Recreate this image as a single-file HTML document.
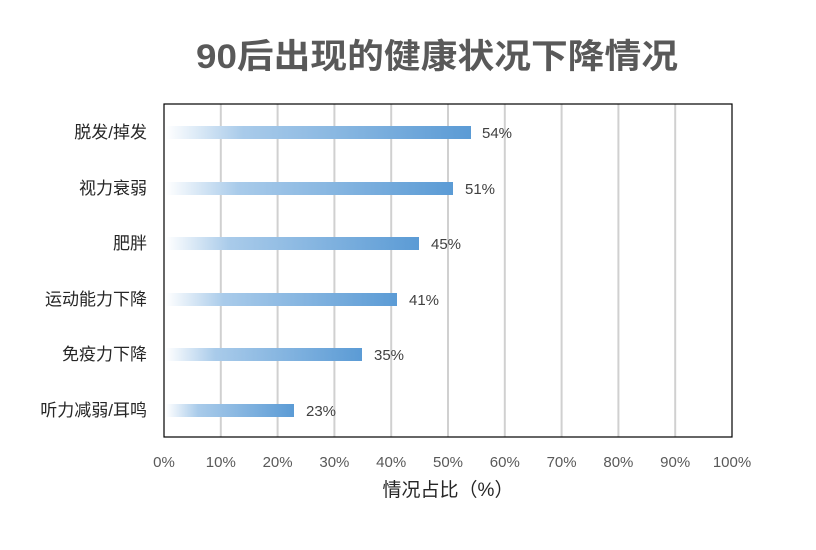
<!DOCTYPE html>
<html><head><meta charset="utf-8"><style>
body{margin:0;background:#fff;}
svg text{font-family:"Liberation Sans","Noto Sans CJK SC",sans-serif;}
</style></head><body>
<svg width="816" height="545" xmlns="http://www.w3.org/2000/svg">
<defs>
<linearGradient id="g" x1="0" x2="1" y1="0" y2="0">
<stop offset="0" stop-color="#ffffff"/>
<stop offset="0.25" stop-color="#a9cbea"/>
<stop offset="1" stop-color="#5b9bd5"/>
</linearGradient>
</defs>
<rect x="0" y="0" width="816" height="545" fill="#fff"/>
<text x="437" y="68" text-anchor="middle" font-size="34" font-weight="bold" fill="#595959" textLength="482" lengthAdjust="spacingAndGlyphs">90后出现的健康状况下降情况</text>
<g stroke="#d0d0d0" stroke-width="2">
<line x1="220.8" y1="104" x2="220.8" y2="437"/>
<line x1="277.6" y1="104" x2="277.6" y2="437"/>
<line x1="334.4" y1="104" x2="334.4" y2="437"/>
<line x1="391.2" y1="104" x2="391.2" y2="437"/>
<line x1="448" y1="104" x2="448" y2="437"/>
<line x1="504.8" y1="104" x2="504.8" y2="437"/>
<line x1="561.6" y1="104" x2="561.6" y2="437"/>
<line x1="618.4" y1="104" x2="618.4" y2="437"/>
<line x1="675.2" y1="104" x2="675.2" y2="437"/>
</g>
<rect x="164" y="104" width="568" height="333" fill="none" stroke="#000" stroke-width="1.2"/>
<g fill="url(#g)">
<rect x="166" y="126" width="305" height="13"/>
<rect x="166" y="182" width="287" height="13"/>
<rect x="166" y="237" width="253" height="13"/>
<rect x="166" y="293" width="231" height="13"/>
<rect x="166" y="348" width="196" height="13"/>
<rect x="166" y="404" width="128" height="13"/>
</g>
<g font-size="15" fill="#404040">
<text x="482" y="138">54%</text>
<text x="465" y="194">51%</text>
<text x="431" y="249">45%</text>
<text x="409" y="305">41%</text>
<text x="374" y="360">35%</text>
<text x="306" y="416">23%</text>
</g>
<g font-size="17" fill="#262626" text-anchor="end">
<text x="147" y="138">脱发/掉发</text>
<text x="147" y="194">视力衰弱</text>
<text x="147" y="249">肥胖</text>
<text x="147" y="305">运动能力下降</text>
<text x="147" y="360">免疫力下降</text>
<text x="147" y="416">听力减弱/耳鸣</text>
</g>
<g font-size="15" fill="#595959" text-anchor="middle">
<text x="164" y="467">0%</text>
<text x="220.8" y="467">10%</text>
<text x="277.6" y="467">20%</text>
<text x="334.4" y="467">30%</text>
<text x="391.2" y="467">40%</text>
<text x="448" y="467">50%</text>
<text x="504.8" y="467">60%</text>
<text x="561.6" y="467">70%</text>
<text x="618.4" y="467">80%</text>
<text x="675.2" y="467">90%</text>
<text x="732" y="467">100%</text>
</g>
<text x="448" y="496" text-anchor="middle" font-size="19" fill="#262626">情况占比（%）</text>
</svg>
</body></html>
